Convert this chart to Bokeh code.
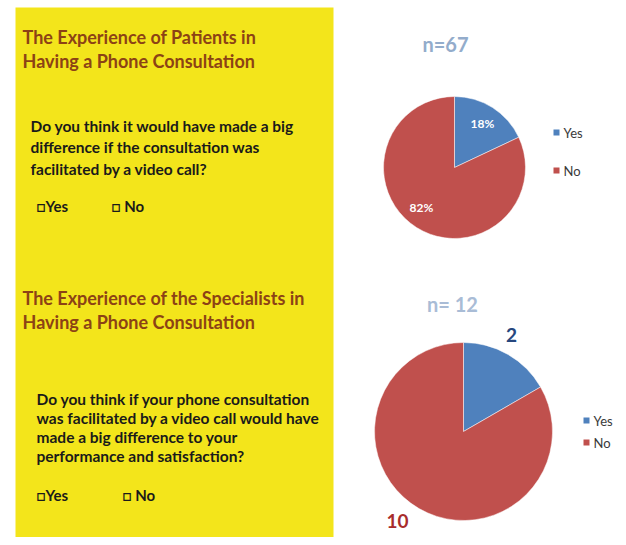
import math
from bokeh.plotting import figure
from bokeh.models import Range1d
from bokeh.core.properties import value
from bokeh.embed import file_html
from bokeh.resources import INLINE

# ---- data ----
categories = ["Yes", "No"]
patients_pct = [18, 82]
patients_n = "n=67"
specialists_counts = [2, 10]
specialists_n = "n= 12"

title1 = ["The Experience of Patients in", "Having a Phone Consultation"]
question1 = ["Do you think it would have made a big",
             "difference if the consultation was",
             "facilitated by a video call?"]
title2 = ["The Experience of the Specialists in", "Having a Phone Consultation"]
question2 = ["Do you think if your phone consultation",
             "was facilitated by a video call would have",
             "made a big difference to your",
             "performance and satisfaction?"]
options = ["\u25a1Yes", "\u25a1 No"]

BLUE = "#4F81BD"
RED = "#C0504D"
YELLOW = "#F3E51B"
BROWN = "#8C4215"
FONT = value("Lato")

W, H = 618, 537
p = figure(width=W, height=H, output_backend="svg", toolbar_location=None,
           x_range=Range1d(0, W), y_range=Range1d(0, H),
           min_border=0, outline_line_color=None, background_fill_color="white")
p.axis.visible = False
p.grid.visible = False

def Y(py):
    return H - py

# yellow panel
p.quad(left=15, right=333, top=Y(7), bottom=Y(538), fill_color=YELLOW, line_color=None)

def lines(texts, x, y0, dy, size, color):
    p.text(x=[x] * len(texts), y=[Y(y0 + i * dy) for i in range(len(texts))], text=texts,
           text_font=FONT, text_font_style="bold", text_font_size=size,
           text_color=color, text_baseline="middle", text_align="left")

lines(title1, 22, 36, 24, "18px", BROWN)
lines(question1, 30, 125, 21.5, "15.5px", "#1a1a1a")
p.text(x=[36, 111], y=[Y(205)] * 2, text=options, text_font=FONT, text_font_style="bold",
       text_font_size="15px", text_color="#1a1a1a", text_baseline="middle")

lines(title2, 22, 297, 24, "18px", BROWN)
lines(question2, 36, 398, 19, "15.5px", "#1a1a1a")
p.text(x=[36, 122], y=[Y(494)] * 2, text=options, text_font=FONT, text_font_style="bold",
       text_font_size="15px", text_color="#1a1a1a", text_baseline="middle")

def pie(vals, cx, cy, r):
    total = sum(vals)
    start = math.pi / 2
    angs = []
    cum = 0
    for v in vals:
        a0 = start - 2 * math.pi * (cum + v) / total
        a1 = start - 2 * math.pi * cum / total
        angs.append((a0, a1))
        cum += v
    p.wedge(x=[cx] * len(vals), y=[Y(cy)] * len(vals), radius=r,
            start_angle=[a[0] for a in angs], end_angle=[a[1] for a in angs],
            fill_color=[BLUE, RED], line_color="white", line_width=0.5)
    return angs

# pie 1
pie(patients_pct, 454, 167, 71)
p.text(x=[445], y=[Y(43)], text=[patients_n], text_font=FONT, text_font_style="bold",
       text_font_size="20px", text_color="#93ACCB", text_align="center", text_baseline="middle")
p.text(x=[482, 421], y=[Y(123), Y(207)], text=[f"{v}%" for v in patients_pct], text_font=FONT,
       text_font_style="bold", text_font_size="12px", text_color="white",
       text_align="center", text_baseline="middle")
p.scatter(x=[556, 556], y=[Y(132), Y(170)], marker="square", size=6,
          fill_color=[BLUE, RED], line_color=None)
p.text(x=[563, 563], y=[Y(132), Y(170)], text=categories, text_font=FONT,
       text_font_size="13px", text_color="#3a3a3a", text_baseline="middle")

# pie 2
pie(specialists_counts, 463, 431, 89)
p.text(x=[452], y=[Y(303)], text=[specialists_n], text_font=FONT, text_font_style="bold",
       text_font_size="20px", text_color="#A9BCD6", text_align="center", text_baseline="middle")
p.text(x=[511], y=[Y(334)], text=[str(specialists_counts[0])], text_font=FONT,
       text_font_style="bold", text_font_size="19px", text_color="#26477E",
       text_align="center", text_baseline="middle")
p.text(x=[397], y=[Y(520)], text=[str(specialists_counts[1])], text_font=FONT,
       text_font_style="bold", text_font_size="19px", text_color="#A82C2B",
       text_align="center", text_baseline="middle")
p.scatter(x=[586, 586], y=[Y(420), Y(442)], marker="square", size=6,
          fill_color=[BLUE, RED], line_color=None)
p.text(x=[593, 593], y=[Y(420), Y(442)], text=categories, text_font=FONT,
       text_font_size="13px", text_color="#3a3a3a", text_baseline="middle")

open("out.html", "w").write(file_html(p, INLINE))
